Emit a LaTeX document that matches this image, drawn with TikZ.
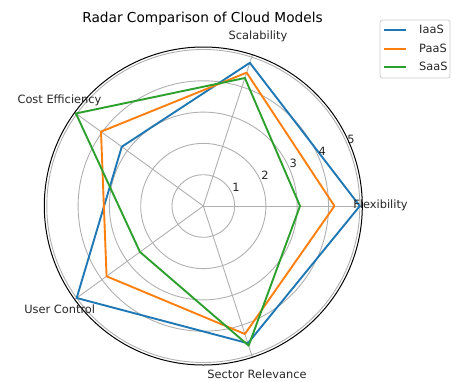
\documentclass[tikz,border=0pt]{standalone}
\usepackage{fontspec}
\setmainfont{DejaVu Sans}
\definecolor{iaas}{HTML}{1F77B4}
\definecolor{paas}{HTML}{FF7F0E}
\definecolor{saas}{HTML}{2CA02C}
\definecolor{gridc}{HTML}{B0B0B0}
\definecolor{legc}{HTML}{CCCCCC}
\definecolor{txt}{HTML}{262626}
\newcommand\radpt[3]{\coordinate (#1) at ({203.3+31.3*#3*cos(#2)},{206-31.3*#3*sin(#2)});}
\begin{document}
\begin{tikzpicture}[x=1pt,y=-1pt,
  gridline/.style={gridc, line width=0.9pt},
  series/.style={line width=1.9pt, line join=round, line cap=round},
  legline/.style={line width=2pt, line cap=butt},
  lbl/.style={inner sep=0pt, text=txt, font=\fontsize{11.4}{13}\selectfont},
  ttl/.style={inner sep=0pt, text=black, font=\fontsize{13.7}{16}\selectfont}]
\useasboundingbox (0,0) rectangle (452,381);
\coordinate (O) at (203.3,206);
% grid circles
\foreach \r in {1,...,5} \draw[gridline] (O) circle[radius=\r*31.3];
% spokes
\foreach \a/\n in {0/s0,72/s1,144/s2,216/s3,288/s4} {
  \radpt{\n}{\a}{5.08}
  \draw[gridline] (O) -- (\n);
}
% outer frame
\draw[black, line width=1pt] (O) circle[radius=159];
% data points
\radpt{i0}{0}{5.0}   \radpt{i1}{72}{4.81} \radpt{i2}{144}{3.22} \radpt{i3}{216}{5.0}  \radpt{i4}{288}{4.61}
\radpt{p0}{0}{4.19}  \radpt{p1}{72}{4.48} \radpt{p2}{144}{4.04} \radpt{p3}{216}{3.82} \radpt{p4}{288}{4.3}
\radpt{q0}{0}{3.09}  \radpt{q1}{72}{4.3}  \radpt{q2}{144}{5.03} \radpt{q3}{216}{2.5}  \radpt{q4}{288}{4.69}
\draw[series, iaas] (i0) -- (i1) -- (i2) -- (i3) -- (i4) -- cycle;
\draw[series, paas] (p0) -- (p1) -- (p2) -- (p3) -- (p4) -- cycle;
\draw[series, saas] (q0) -- (q1) -- (q2) -- (q3) -- (q4) -- cycle;
% radial tick labels
\node[lbl] (t1) at (236,187.7) {1};
\node[lbl] (t2) at (265,175.7) {2};
\node[lbl] (t3) at (293.3,163.3) {3};
\node[lbl] (t4) at (322.3,151) {4};
\node[lbl] (t5) at (351,139) {5};
% category labels
\node[lbl] (lscal) at (258,36) {Scalability};
\node[lbl] (lflex) at (380.5,205.5) {Flexibility};
\node[lbl] (lcost) at (59.5,100.7) {Cost Efficiency};
\node[lbl] (luser) at (59.7,309.3) {User Control};
\node[lbl] (lsect) at (257,374) {Sector Relevance};
% title
\node[ttl] (title) at (202.5,19) {Radar Comparison of Cloud Models};
% legend
\node[draw=legc, fill=white, rounded corners=2.5pt, line width=0.8pt,
      minimum width=70pt, minimum height=58pt, inner sep=0pt] (legend) at (415,49) {};
\coordinate (la1) at (384,29.5); \coordinate (lb1) at (406,29.5);
\coordinate (la2) at (384,48.5); \coordinate (lb2) at (406,48.5);
\coordinate (la3) at (384,66.5); \coordinate (lb3) at (406,66.5);
\draw[legline, iaas] (la1) -- (lb1);
\draw[legline, paas] (la2) -- (lb2);
\draw[legline, saas] (la3) -- (lb3);
\node[lbl, anchor=west] (li) at (419,29.3) {IaaS};
\node[lbl, anchor=west] (lp) at (419,48.3) {PaaS};
\node[lbl, anchor=west] (ls) at (419,66.7) {SaaS};
\end{tikzpicture}
\end{document}
